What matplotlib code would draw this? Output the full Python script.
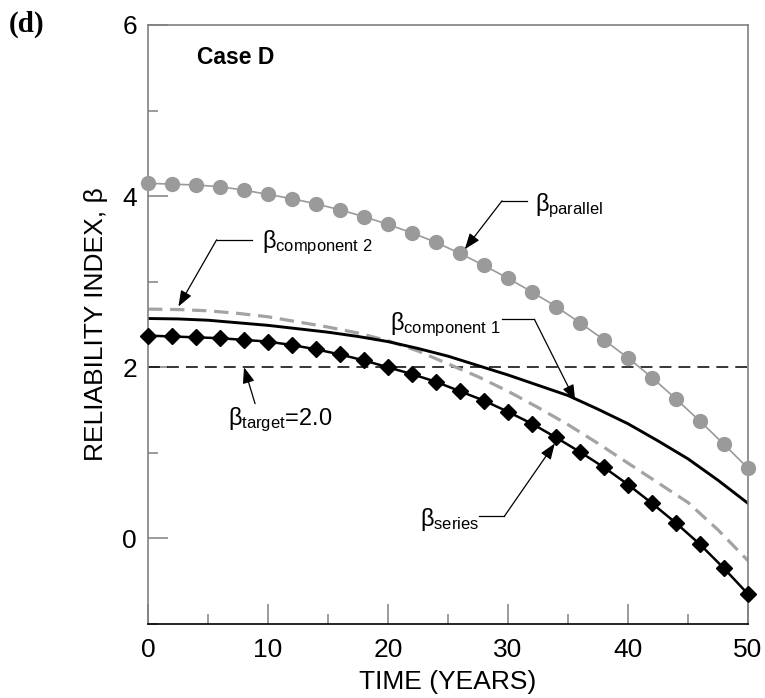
import matplotlib
matplotlib.use('Agg')
import matplotlib.pyplot as plt
from matplotlib.ticker import MultipleLocator

plt.rcParams['font.family'] = ['Liberation Sans', 'DejaVu Sans']
plt.rcParams['mathtext.fontset'] = 'custom'
plt.rcParams['mathtext.rm'] = 'Liberation Sans'
plt.rcParams['mathtext.it'] = 'Liberation Sans'
plt.rcParams['mathtext.bf'] = 'Liberation Sans:bold'

# data
years_mk = [0, 2, 4, 6, 8, 10, 12, 14, 16, 18, 20, 22, 24, 26, 28, 30, 32, 34, 36, 38, 40, 42, 44, 46, 48, 50]
beta_parallel = [4.15, 4.14, 4.13, 4.11, 4.07, 4.02, 3.97, 3.91, 3.84, 3.76, 3.67, 3.57, 3.46,
                 3.33, 3.19, 3.04, 2.88, 2.71, 2.52, 2.32, 2.11, 1.88, 1.63, 1.37, 1.10, 0.82]
beta_series = [2.37, 2.36, 2.35, 2.34, 2.32, 2.30, 2.26, 2.21, 2.15, 2.08, 2.00, 1.92, 1.83,
               1.72, 1.61, 1.48, 1.34, 1.18, 1.01, 0.83, 0.63, 0.41, 0.18, -0.07, -0.35, -0.65]

years_ln = [0, 2.5, 5, 7.5, 10, 12.5, 15, 17.5, 20, 22.5, 25, 27.5, 30, 32.5, 35, 37.5, 40, 42.5, 45, 47.5, 50]
beta_comp1 = [2.57, 2.565, 2.55, 2.52, 2.49, 2.45, 2.41, 2.36, 2.30, 2.22, 2.13, 2.02, 1.91,
              1.79, 1.67, 1.51, 1.34, 1.14, 0.93, 0.68, 0.41]
beta_comp2 = [2.68, 2.675, 2.66, 2.63, 2.59, 2.53, 2.47, 2.40, 2.31, 2.19, 2.04, 1.89, 1.72,
              1.53, 1.33, 1.11, 0.88, 0.65, 0.42, 0.10, -0.26]

beta_target = 2.0

fig = plt.figure(figsize=(7.65, 6.98), dpi=100)
ax = fig.add_axes([0.1935, 0.106, 0.7843, 0.8582])

ax.plot([0, 50], [beta_target, beta_target], color='black', lw=1.1, dashes=(7.8, 4.6))
ax.plot(years_ln, beta_comp2, color='#a3a3a3', lw=2.3, dashes=(4.5, 2.4))
ax.plot(years_ln, beta_comp1, color='black', lw=2.1)
ax.plot(years_mk, beta_parallel, color='#9a9a9a', lw=1.2, marker='o', ms=10,
        mfc='#9a9a9a', mec='#9a9a9a', clip_on=False, zorder=3)
ax.plot(years_mk, beta_series, color='black', lw=1.8, marker='D', ms=8,
        mfc='black', mec='black', clip_on=False, zorder=4)

ax.set_xlim(0, 50)
ax.set_ylim(-1, 6)
ax.xaxis.set_major_locator(MultipleLocator(10))
ax.xaxis.set_minor_locator(MultipleLocator(5))
ax.yaxis.set_major_locator(MultipleLocator(2))
ax.yaxis.set_minor_locator(MultipleLocator(1))
ax.tick_params(which='both', direction='in', color='#808080', width=1.1, labelsize=19, pad=8)
ax.tick_params(axis='x', which='both', pad=10)
ax.tick_params(which='major', length=14.4)
ax.tick_params(which='minor', length=7.2)

for side in ['left', 'top', 'right']:
    ax.spines[side].set_color('#808080')
    ax.spines[side].set_linewidth(1.2)
ax.spines['bottom'].set_color('black')
ax.spines['bottom'].set_linewidth(1.2)

ax.set_xlabel('TIME (YEARS)', fontsize=19, labelpad=6)
ax.set_ylabel('RELIABILITY INDEX, β', fontsize=19, labelpad=10)

ax.text(0.082, 0.945, 'Case D', transform=ax.transAxes, fontsize=16.5,
        fontweight='bold', va='center', ha='left')
fig.text(0.012, 0.965, '(d)', family='Liberation Serif', fontweight='bold',
         fontsize=21, va='center', ha='left')

arrow = dict(arrowstyle='-|>,head_length=0.8,head_width=0.3', color='black', lw=0.9,
             mutation_scale=12, shrinkA=0, shrinkB=0)
fs = 17

def label(txt, xy_text, leader, tail, tip):
    ax.text(xy_text[0], xy_text[1], txt, fontsize=fs, ha='left', va='baseline')
    if leader is not None:
        ax.plot(leader[0], leader[1], color='black', lw=0.9)
    ax.annotate('', xy=tip, xytext=tail, arrowprops=arrow)

label(r'$\beta_{\rm component\ 2}$', (9.48, 3.39), ([5.72, 8.64], [3.49, 3.49]),
      (5.72, 3.49), (2.53, 2.71))
label(r'$\beta_{\rm target}$=2.0', (6.67, 1.33), None, (8.92, 1.575), (8.0, 2.0))
label(r'$\beta_{\rm parallel}$', (32.25, 3.82), ([29.5, 31.56], [3.945, 3.945]),
      (29.5, 3.945), (26.4, 3.38))
label(r'$\beta_{\rm component\ 1}$', (20.17, 2.43), ([29.5, 32.2], [2.56, 2.56]),
      (32.2, 2.56), (35.6, 1.61))
label(r'$\beta_{\rm series}$', (22.67, 0.15), ([27.6, 29.7], [0.26, 0.26]),
      (29.7, 0.26), (33.9, 1.11))

fig.savefig('out.png', dpi=100)
